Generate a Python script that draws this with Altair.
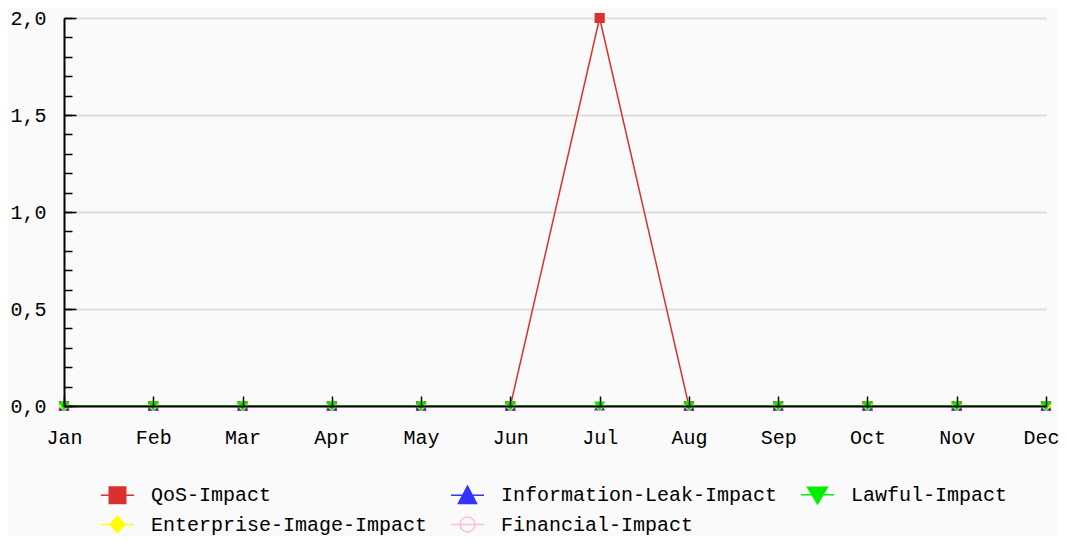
import altair as alt
import pandas as pd

months = ["Jan", "Feb", "Mar", "Apr", "May", "Jun", "Jul", "Aug", "Sep", "Oct", "Nov", "Dec"]
series = ["QoS-Impact", "Information-Leak-Impact", "Lawful-Impact",
          "Enterprise-Image-Impact", "Financial-Impact"]
qos_impact = [0, 0, 0, 0, 0, 0, 2, 0, 0, 0, 0, 0]
information_leak_impact = [0, 0, 0, 0, 0, 0, 0, 0, 0, 0, 0, 0]
lawful_impact = [0, 0, 0, 0, 0, 0, 0, 0, 0, 0, 0, 0]
enterprise_image_impact = [0, 0, 0, 0, 0, 0, 0, 0, 0, 0, 0, 0]
financial_impact = [0, 0, 0, 0, 0, 0, 0, 0, 0, 0, 0, 0]

values = {
    "QoS-Impact": qos_impact,
    "Information-Leak-Impact": information_leak_impact,
    "Lawful-Impact": lawful_impact,
    "Enterprise-Image-Impact": enterprise_image_impact,
    "Financial-Impact": financial_impact,
}
draw_order = ["QoS-Impact", "Financial-Impact", "Information-Leak-Impact",
              "Enterprise-Image-Impact", "Lawful-Impact"]

rows = []
for s in draw_order:
    for i, (m, v) in enumerate(zip(months, values[s])):
        rows.append({"series": s, "month": m, "idx": i, "value": v})
df = pd.DataFrame(rows)

stroke_colors = ["#d93030", "#3333ff", "#00ee00", "#ffff00", "#ffc0cb"]
fill_colors = ["#d93030", "#3333ff", "#00ee00", "#ffff00", "transparent"]
chart_shapes = ["square", "triangle-up", "triangle-down", "diamond", "circle"]
legend_shapes = [
    "M-1,0H1M-0.5,-0.5H0.5V0.5H-0.5Z",
    "M-1,0H1M0,-0.55L0.55,0.5H-0.55Z",
    "M-1,0H1M0,0.55L0.6,-0.45H-0.6Z",
    "M-1,0H1M0,-0.5L0.45,0L0,0.5L-0.45,0Z",
    "M-1,0H1M-0.45,0A0.45,0.45,0,1,1,0.45,0A0.45,0.45,0,1,1,-0.45,0",
]

FONT = "Liberation Mono"
xscale = alt.Scale(type="point", domain=months, padding=0)
yscale = alt.Scale(domain=[0, 2], nice=False, zero=True)

def X(axis):
    return alt.X("month:N", sort=months, scale=xscale, axis=axis, title=None)

def Y(axis):
    return alt.Y("value:Q", scale=yscale, axis=axis, title=None)

base = alt.Chart(df)

lines = base.mark_line(strokeWidth=1.5).encode(
    x=X(alt.Axis(orient="bottom", domain=True, domainColor="black", domainWidth=2,
                 ticks=False, labels=False, grid=False, zindex=1)),
    y=Y(alt.Axis(orient="left", values=[0.5, 1, 1.5, 2], grid=True, gridColor="#dedede",
                 gridWidth=2, domain=False, ticks=False, labels=False, zindex=0)),
    color=alt.Color("series:N", scale=alt.Scale(domain=series, range=stroke_colors), legend=None),
    order=alt.Order("idx:Q"),
)

points = base.mark_point(size=80, strokeWidth=1.2, opacity=1).encode(
    x=X(alt.Axis(orient="bottom", offset=-10, tickSize=10, tickColor="black", tickWidth=1.5,
                 domain=False, grid=False, labelFont=FONT, labelFontSize=20,
                 labelColor="black", labelPadding=21, labelAngle=0, zindex=1,
                 labelOffset={"condition": {"test": "datum.value === 'Dec'", "value": -5},
                              "value": 0})),
    y=Y(alt.Axis(orient="left", domain=True, domainColor="black", domainWidth=2,
                 ticks=False, labels=False, grid=False, zindex=1)),
    fill=alt.Fill("series:N", scale=alt.Scale(domain=series, range=fill_colors), legend=None),
    stroke=alt.Stroke("series:N", scale=alt.Scale(domain=series, range=stroke_colors), legend=None),
    shape=alt.Shape("series:N", scale=alt.Scale(domain=series, range=chart_shapes), legend=None),
)

leg = alt.Legend(orient="none", legendX=36, legendY=459, columns=3, direction="horizontal",
                 title=None, symbolSize=1089, symbolStrokeWidth=1.5, symbolOpacity=1,
                 labelFont=FONT, labelFontSize=20, labelColor="black", labelOffset=16,
                 columnPadding=20, rowPadding=-1, padding=0, labelLimit=400)

legend_layer = base.mark_point(size=1089, opacity=0).encode(
    x=X(None),
    y=Y(alt.Axis(orient="left", values=[round(i * 0.1, 1) for i in range(21)], offset=-8,
                 tickSize=8, tickColor="black", tickWidth=1.5, domain=False, labels=False,
                 grid=False, zindex=1)),
    fill=alt.Fill("series:N", scale=alt.Scale(domain=series, range=fill_colors), legend=leg),
    stroke=alt.Stroke("series:N", scale=alt.Scale(domain=series, range=stroke_colors), legend=leg),
    shape=alt.Shape("series:N", scale=alt.Scale(domain=series, range=legend_shapes), legend=leg),
)

label_layer = base.mark_point(opacity=0).encode(
    x=X(None),
    y=Y(alt.Axis(orient="left", values=[0, 0.5, 1, 1.5, 2], offset=-12, tickSize=12,
                 tickColor="black", tickWidth=1.5, domain=False, grid=False,
                 labelFont=FONT, labelFontSize=20, labelColor="black", labelPadding=18,
                 labelExpr="replace(format(datum.value, '.1f'), '.', ',')", zindex=1)),
)

chart = alt.layer(lines, points, legend_layer, label_layer).resolve_scale(
    color="independent", fill="independent", stroke="independent", shape="independent"
).resolve_axis(x="independent", y="independent").properties(
    width=982, height=388,
    autosize=alt.AutoSizeParams(type="none"),
    padding={"left": 56, "top": 10, "right": 13, "bottom": 130},
    background="#fafafa",
).configure_view(stroke=None)

chart.save("out.html", embed_options={"renderer": "svg", "actions": False})
